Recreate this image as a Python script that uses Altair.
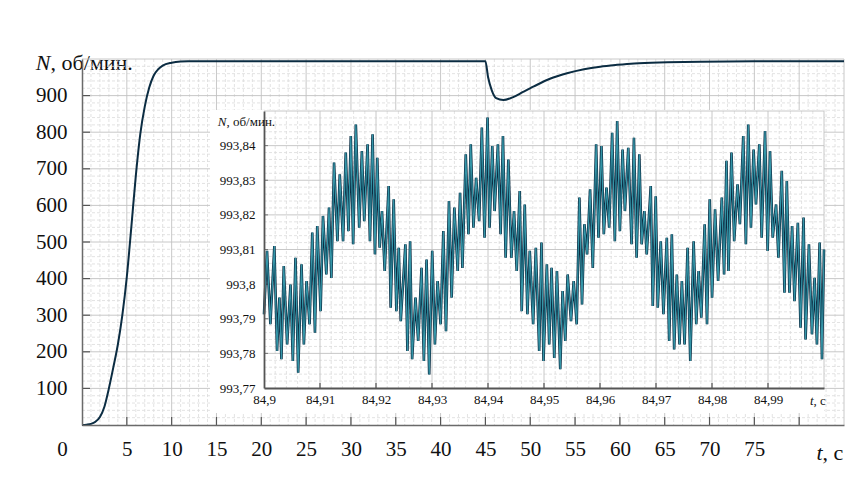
import altair as alt
import pandas as pd

# ---------------- main curve: N (rpm) vs t (s) ----------------
main_t = [0, 0.5, 1, 1.5, 2, 2.5, 3, 3.5, 4, 4.5, 5, 5.5, 6, 6.5, 7, 7.5, 8, 8.5, 9, 10, 11, 12, 13,
          45, 45.3, 45.7, 46.2, 47, 48.1, 49.2, 50.4, 52.2, 54.1, 56, 57.8, 59.7, 61.6, 65.3, 69, 75, 85]
main_n = [0, 1, 3, 9, 22, 50, 100, 158, 220, 300, 405, 540, 680, 795, 870, 922, 955, 972, 982, 990, 993, 993.6, 993.8,
          993.8, 950, 915, 893, 888, 896, 910, 925, 946, 961, 972, 979, 984, 988, 991, 992.8, 993.6, 993.8]

# ---------------- inset: zoomed steady-state oscillation ----------------
inset_t_a = [84.90000, 84.90054, 84.90114, 84.90185, 84.90233, 84.90275, 84.90311, 84.90353, 84.90413, 84.90473,
             84.90515, 84.90562, 84.90610, 84.90670, 84.90712, 84.90760, 84.90814, 84.90862, 84.90910, 84.90951,
             84.91011, 84.91053, 84.91113, 84.91161, 84.91203, 84.91251, 84.91311, 84.91353, 84.91412, 84.91460,
             84.91508, 84.91550, 84.91592, 84.91640, 84.91700, 84.91748, 84.91790, 84.91850, 84.91892, 84.91939,
             84.91981]
inset_n_a = [993.7913, 993.8096, 993.7884, 993.8110, 993.7807, 993.7961, 993.7783, 993.8052, 993.7826, 993.7999,
             993.7778, 993.8076, 993.7744, 993.8057, 993.7826, 993.8009, 993.7884, 993.8149, 993.7860, 993.8168,
             993.7922, 993.8197, 993.8028, 993.8221, 993.8018, 993.8351, 993.8124, 993.8317, 993.8124, 993.8380,
             993.8153, 993.8428, 993.8115, 993.8461, 993.8163, 993.8384, 993.8182, 993.8404, 993.8124, 993.8433,
             993.8086]

inset_t_b = [84.92023, 84.92065, 84.92107, 84.92155, 84.92226, 84.92262, 84.92316, 84.92364, 84.92406, 84.92442,
             84.92525, 84.92561, 84.92609, 84.92645, 84.92705, 84.92753, 84.92813, 84.92855, 84.92903, 84.92950,
             84.93004, 84.93052, 84.93100, 84.93154, 84.93202, 84.93250, 84.93303, 84.93351, 84.93399, 84.93459,
             84.93501, 84.93543, 84.93603, 84.93651, 84.93692, 84.93740, 84.93788, 84.93842, 84.93890, 84.93938,
             84.93992, 84.94028]
inset_n_b = [993.8365, 993.8105, 993.8211, 993.8038, 993.8283, 993.7932, 993.8245, 993.7922, 993.8105, 993.7893,
             993.8115, 993.7807, 993.8124, 993.7783, 993.7961, 993.7836, 993.8047, 993.7778, 993.8071, 993.7739,
             993.8096, 993.7826, 993.8009, 993.7884, 993.8153, 993.7864, 993.8240, 993.7961, 993.8221, 993.8038,
             993.8264, 993.8047, 993.8375, 993.8144, 993.8404, 993.8163, 993.8307, 993.8182, 993.8452, 993.8134,
             993.8481, 993.8163]

inset_t_c = [84.94076, 84.94118, 84.94177, 84.94225, 84.94267, 84.94315, 84.94363, 84.94417, 84.94465, 84.94513,
             84.94566, 84.94602, 84.94656, 84.94704, 84.94746, 84.94806, 84.94854, 84.94914, 84.94955, 84.94991,
             84.95051, 84.95093, 84.95135, 84.95183, 84.95231, 84.95290, 84.95332, 84.95380, 84.95422, 84.95482,
             84.95530, 84.95584, 84.95632, 84.95679, 84.95721, 84.95769, 84.95823, 84.95871, 84.95931, 84.95973]
inset_n_c = [993.8399, 993.8211, 993.8404, 993.8144, 993.8428, 993.8076, 993.8360, 993.8076, 993.8211, 993.8038,
             993.8269, 993.7922, 993.8230, 993.7913, 993.8096, 993.7884, 993.8105, 993.7807, 993.8120, 993.7778,
             993.8057, 993.7826, 993.8047, 993.7787, 993.8038, 993.7754, 993.7980, 993.7836, 993.8028, 993.7893,
             993.8009, 993.7884, 993.8250, 993.7941, 993.8173, 993.8086, 993.8274, 993.8047, 993.8404, 993.8134]

inset_t_d = [84.96026, 84.96068, 84.96116, 84.96164, 84.96217, 84.96265, 84.96307, 84.96355, 84.96403, 84.96445,
             84.96505, 84.96564, 84.96606, 84.96654, 84.96702, 84.96744, 84.96792, 84.96834, 84.96906, 84.96942,
             84.96995, 84.97031, 84.97085, 84.97133, 84.97193, 84.97235, 84.97283, 84.97324, 84.97372, 84.97420,
             84.97462, 84.97510, 84.97564, 84.97612, 84.97672, 84.97719, 84.97761, 84.97809, 84.97869, 84.97911,
             84.97959, 84.98001]
inset_n_d = [993.8399, 993.8144, 993.8279, 993.8163, 993.8437, 993.8124, 993.8471, 993.8153, 993.8389, 993.8211,
             993.8394, 993.8115, 993.8423, 993.8076, 993.8375, 993.8115, 993.8211, 993.8086, 993.8283, 993.7937,
             993.8254, 993.7932, 993.8124, 993.7913, 993.8134, 993.7836, 993.8144, 993.7811, 993.8028, 993.7826,
             993.8009, 993.7826, 993.8105, 993.7778, 993.8124, 993.7884, 993.8038, 993.7903, 993.8173, 993.7884,
             993.8245, 993.7961]

inset_t_e = [84.98055, 84.98109, 84.98175, 84.98216, 84.98258, 84.98294, 84.98348, 84.98396, 84.98456, 84.98498,
             84.98558, 84.98605, 84.98647, 84.98695, 84.98743, 84.98785, 84.98845, 84.98887, 84.98947, 84.98994,
             84.99036, 84.99084, 84.99144, 84.99186, 84.99246, 84.99294, 84.99336, 84.99383, 84.99431, 84.99473,
             84.99533, 84.99581, 84.99635, 84.99671, 84.99731, 84.99785, 84.99832, 84.99874, 84.99922, 84.99964,
             85.00000]
inset_n_e = [993.8216, 993.8009, 993.8250, 993.8028, 993.8356, 993.8038, 993.8380, 993.8124, 993.8288, 993.8173,
             993.8428, 993.8115, 993.8461, 993.8163, 993.8389, 993.8230, 993.8404, 993.8134, 993.8442, 993.8096,
             993.8384, 993.8134, 993.8230, 993.8076, 993.8327, 993.7975, 993.8298, 993.7975, 993.8168, 993.7951,
             993.8177, 993.7874, 993.8192, 993.7840, 993.8115, 993.7855, 993.8018, 993.7826, 993.8120, 993.7783,
             993.8100]

inset_t = inset_t_a + inset_t_b + inset_t_c + inset_t_d + inset_t_e
inset_n = inset_n_a + inset_n_b + inset_n_c + inset_n_d + inset_n_e

# ---------------- tick labels ----------------
main_x_ticks = [0, 5, 10, 15, 20, 25, 30, 35, 40, 45, 50, 55, 60, 65, 70, 75]
main_y_ticks = [100, 200, 300, 400, 500, 600, 700, 800, 900]
inset_x_ticks = [84.90, 84.91, 84.92, 84.93, 84.94, 84.95, 84.96, 84.97, 84.98, 84.99]
inset_y_ticks = [993.77, 993.78, 993.79, 993.80, 993.81, 993.82, 993.83, 993.84]

# ---------------- layout / style ----------------
W, H = 762, 366
IX = [182, 742]      # inset plot range (px, inside main plot)
IY = [329, 52]
FONT = "Liberation Serif"
DARK = "#0b2c42"
TEAL = "#3596a8"
MAJOR = "#c2c2c2"
MINOR = "#dcdcdc"
AXIS = "#6a6a6a"

main_df = pd.DataFrame({"t": main_t, "n": main_n})
n = min(len(inset_t), len(inset_n))
inset_df = pd.DataFrame({"t": inset_t[:n], "n": inset_n[:n]})

xs = alt.Scale(domain=[0, 85], nice=False, zero=False)
ys = alt.Scale(domain=[0, 1000], nice=False, zero=False)
xis = alt.Scale(domain=[84.90, 85.00], range=IX, nice=False, zero=False)
yis = alt.Scale(domain=[993.77, 993.85], range=IY, nice=False, zero=False)


def vrules(vals, scale, y0, y1, color, width, dash=None):
    kw = dict(color=color, strokeWidth=width)
    if dash:
        kw["strokeDash"] = dash
    return alt.Chart(pd.DataFrame({"g": vals})).mark_rule(**kw).encode(
        x=alt.X("g:Q", scale=scale, axis=None), y=alt.value(y0), y2=alt.value(y1))


def hrules(vals, scale, x0, x1, color, width, dash=None):
    kw = dict(color=color, strokeWidth=width)
    if dash:
        kw["strokeDash"] = dash
    return alt.Chart(pd.DataFrame({"g": vals})).mark_rule(**kw).encode(
        y=alt.Y("g:Q", scale=scale, axis=None), x=alt.value(x0), x2=alt.value(x1))


# main grid
m_minor_v = vrules([v for v in range(0, 86) if v % 5], xs, 0, H, MINOR, 0.8, [3, 2])
m_minor_h = hrules([v for v in range(0, 1001, 20) if v % 100], ys, 0, W, MINOR, 0.8, [3, 2])
m_major_v = vrules(list(range(5, 86, 5)), xs, 0, H, MAJOR, 0.9)
m_major_h = hrules(list(range(100, 1001, 100)), ys, 0, W, MAJOR, 0.9)
m_tick_x = vrules(main_x_ticks[1:] + [80], xs, H - 8, H, "#555", 1.2)
m_tick_y = hrules(main_y_ticks, ys, 0, 8, "#555", 1.2)

label_kw = dict(labelFont=FONT, labelFontSize=21, labelColor="#111", tickSize=0, ticks=False,
                grid=False, labelFlush=False, labelOverlap=False, domainColor=AXIS, domainWidth=1.5,
                zindex=1)
title_kw = dict(titleFont=FONT, titleFontSize=22, titleColor="#111", titleFontWeight="normal",
                titleAngle=0, titleBaseline="middle")

main_line = alt.Chart(main_df).mark_line(color=DARK, strokeWidth=2, interpolate="monotone").encode(
    x=alt.X("t:Q", scale=xs, axis=alt.Axis(
        orient="bottom", values=main_x_ticks, labelPadding=13,
        labelOffset={"condition": {"test": "datum.value === 0", "value": -20}, "value": 0},
        title="t", titleFontStyle="italic", titleX=740, titleY=27, titleAlign="right",
        **label_kw, **title_kw)),
    y=alt.Y("n:Q", scale=ys, axis=alt.Axis(
        orient="left", values=main_y_ticks, labelPadding=15,
        title="N", titleFontStyle="italic", titleX=-32, titleY=3, titleAlign="right",
        **label_kw, **title_kw)),
)
main_title2 = alt.Chart(main_df).mark_line(strokeOpacity=0).encode(
    x=alt.X("t:Q", scale=xs, axis=alt.Axis(
        orient="bottom", labels=False, ticks=False, domain=False, grid=False,
        title=", c", titleX=740, titleY=27, titleAlign="left", **title_kw)),
    y=alt.Y("n:Q", scale=ys, axis=alt.Axis(
        orient="left", labels=False, ticks=False, domain=False, grid=False,
        title=", об/мин.", titleX=-32, titleY=3, titleAlign="left", **title_kw)),
)

main = alt.layer(m_minor_v, m_minor_h, m_major_v, m_major_h, m_tick_x, m_tick_y,
                 main_line, main_title2).resolve_axis(x="independent", y="independent")

# inset
inset_bg = alt.Chart(pd.DataFrame({"a": [0]})).mark_rect(color="white").encode(
    x=alt.value(128), x2=alt.value(IX[1]), y=alt.value(51), y2=alt.value(354))
i_minor_v = vrules([84.90 + 0.002 * k for k in range(51) if k % 5], xis, IY[1], IY[0], MINOR, 0.8, [3, 2])
i_minor_h = hrules([993.77 + 0.002 * k for k in range(41) if k % 5], yis, IX[0], IX[1], MINOR, 0.8, [3, 2])
i_major_v = vrules(inset_x_ticks[1:] + [85.0], xis, IY[1], IY[0], MAJOR, 0.9)
i_major_h = hrules(inset_y_ticks[1:] + [993.85], yis, IX[0], IX[1], MAJOR, 0.9)
i_tick_x = vrules(inset_x_ticks[1:], xis, IY[0] - 5, IY[0], "#555", 1.2)
i_tick_y = hrules(inset_y_ticks[1:], yis, IX[0], IX[0] + 4, "#777", 1.0)

ilabel_kw = dict(labelFont=FONT, labelFontSize=13, labelColor="#111", tickSize=0, ticks=False,
                 grid=False, labelFlush=False, labelOverlap=False, domainColor="#555", domainWidth=1.8,
                 labelExpr="replace(format(datum.value, '.6~r'), '.', ',')", zindex=2)
ititle_kw = dict(titleFont=FONT, titleFontSize=13, titleColor="#111", titleFontWeight="normal",
                 titleAngle=0, titleBaseline="middle")

inset_dark = alt.Chart(inset_df).mark_line(color=DARK, strokeWidth=2.6).encode(
    x=alt.X("t:Q", scale=xis, axis=alt.Axis(
        orient="bottom", offset=-(H - IY[0]), values=inset_x_ticks, labelPadding=5,
        title="t", titleFontStyle="italic", titleX=731, titleY=12, titleAlign="right",
        **ilabel_kw, **ititle_kw)),
    y=alt.Y("n:Q", scale=yis, axis=alt.Axis(
        orient="left", offset=-IX[0], values=inset_y_ticks, labelPadding=9,
        title="N", titleFontStyle="italic", titleX=-38, titleY=62, titleAlign="right",
        **ilabel_kw, **ititle_kw)),
)
inset_teal = alt.Chart(inset_df).mark_line(color=TEAL, strokeWidth=1.2).encode(
    x=alt.X("t:Q", scale=xis, axis=alt.Axis(
        orient="bottom", offset=-(H - IY[0]), labels=False, ticks=False, domain=False, grid=False,
        title=", c", titleX=731, titleY=12, titleAlign="left", zindex=2, **ititle_kw)),
    y=alt.Y("n:Q", scale=yis, axis=alt.Axis(
        orient="left", offset=-IX[0], labels=False, ticks=False, domain=False, grid=False,
        title=", об/мин.", titleX=-38, titleY=62, titleAlign="left", zindex=2, **ititle_kw)),
)

inset = alt.layer(inset_bg, i_minor_v, i_minor_h, i_major_v, i_major_h, i_tick_x, i_tick_y,
                  inset_dark, inset_teal).resolve_axis(x="independent", y="independent")

chart = alt.layer(main, inset).resolve_scale(x="independent", y="independent").properties(
    width=W, height=H,
    autosize=alt.AutoSizeParams(type="none"),
    padding={"left": 74, "top": 51, "right": 12, "bottom": 60},
    background="white",
).configure_view(stroke=None)

chart.save("out.html", embed_options={"renderer": "svg", "actions": False})
